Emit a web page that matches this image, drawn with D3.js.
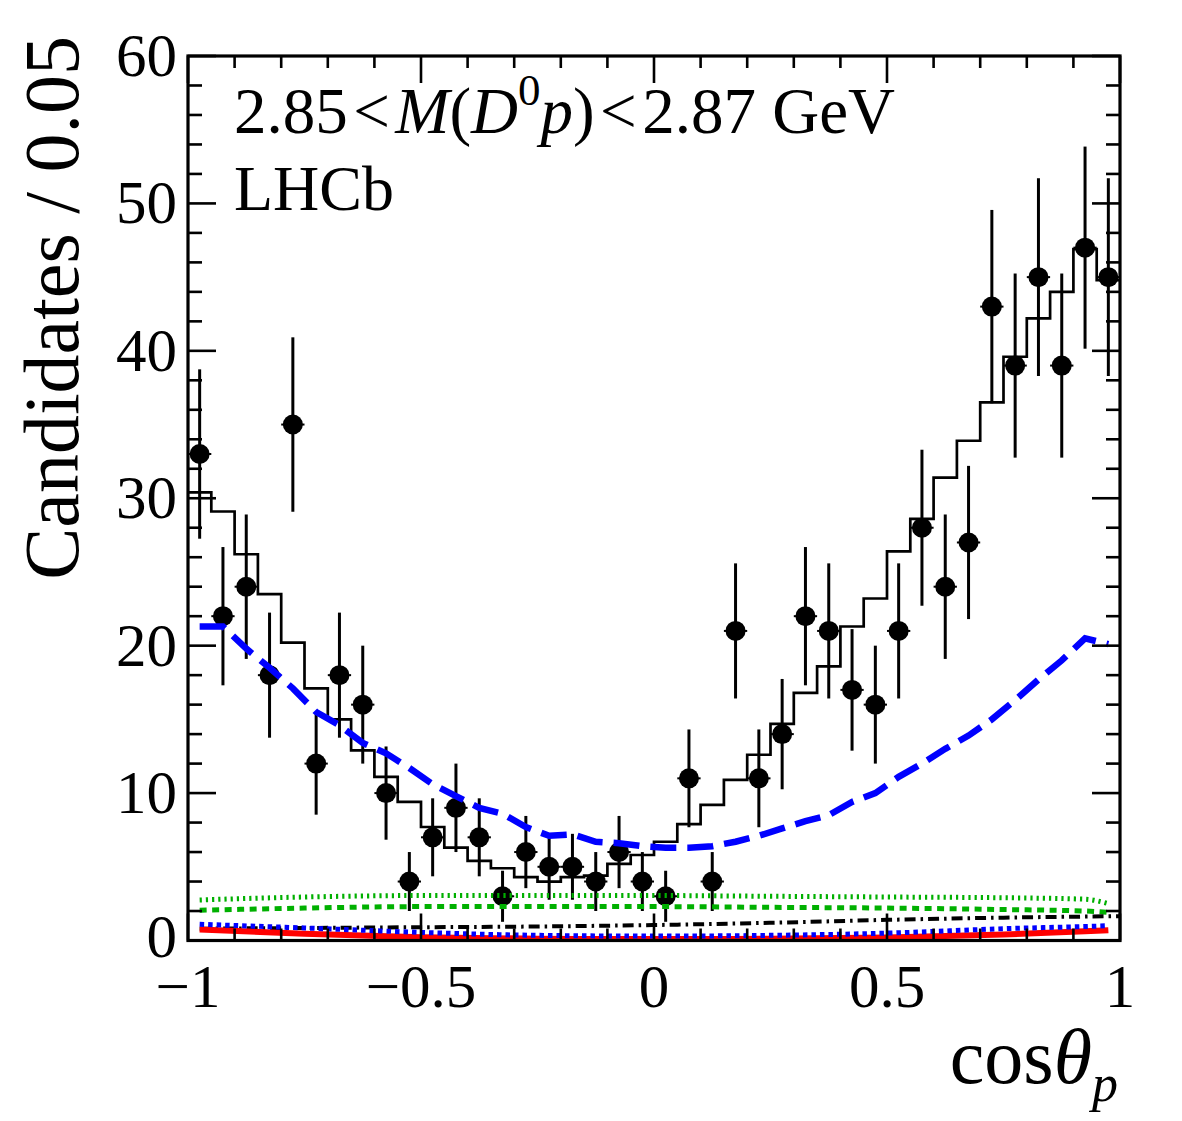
<!DOCTYPE html>
<html><head><meta charset="utf-8">
<script src="https://cdn.jsdelivr.net/npm/d3@7"></script>
<style>
body{margin:0;background:#fff}
text{font-family:"Liberation Serif","Times New Roman",serif;fill:#000}
</style>
</head><body>
<svg id="c" width="1182" height="1121"></svg>
<script>
// ---- data ----
const binLow = [-1,-0.95,-0.9,-0.85,-0.8,-0.75,-0.7,-0.65,-0.6,-0.55,-0.5,-0.45,-0.4,-0.35,-0.3,-0.25,-0.2,-0.15,-0.1,-0.05,
                0,0.05,0.1,0.15,0.2,0.25,0.3,0.35,0.4,0.45,0.5,0.55,0.6,0.65,0.7,0.75,0.8,0.85,0.9,0.95];
const binCenter = [-0.975,-0.925,-0.875,-0.825,-0.775,-0.725,-0.675,-0.625,-0.575,-0.525,-0.475,-0.425,-0.375,-0.325,-0.275,-0.225,-0.175,-0.125,-0.075,-0.025,
                   0.025,0.075,0.125,0.175,0.225,0.275,0.325,0.375,0.425,0.475,0.525,0.575,0.625,0.675,0.725,0.775,0.825,0.875,0.925,0.975];
const binWidth = 0.05;
const dataCounts = [33,22,24,18,35,12,18,16,10,4,7,9,7,3,6,5,5,4,6,4,
                    3,11,4,21,11,14,22,21,17,16,21,28,24,27,43,39,45,39,47,45];
const fitTotal = [30.4,29.1,26.2,23.5,20.2,17.1,15.0,12.9,11.1,9.4,7.7,6.3,5.4,4.9,4.3,4.0,4.3,4.4,5.2,5.8,
                  6.7,7.9,9.2,10.9,12.6,14.7,16.8,18.6,21.3,23.2,26.4,28.6,31.4,33.9,36.5,39.6,42.2,44.0,46.9,44.8];
const blueDashed = [21.3,21.3,19.8,18.5,17.1,15.5,14.6,13.4,12.7,11.7,10.6,9.8,9.0,8.6,7.7,7.1,7.2,6.7,6.6,6.4,
                    6.3,6.3,6.4,6.7,7.1,7.6,8.1,8.5,9.4,10.0,11.1,12.0,13.0,13.9,15.0,16.3,17.7,19.0,20.5,20.1];
const compX = [-0.975,-0.75,-0.5,-0.25,0,0.25,0.5,0.75,0.925,0.975];
const greenDotted = [2.75,2.95,3.05,3.05,3.05,3.0,2.95,2.9,2.8,2.5];
const greenDashed = [2.05,2.2,2.3,2.3,2.3,2.25,2.2,2.1,2.0,1.9];
const blueDotted  = [1.1,0.85,0.55,0.35,0.3,0.35,0.5,0.8,0.95,1.0];
const redSolid    = [0.75,0.45,0.22,0.12,0.1,0.12,0.2,0.4,0.62,0.7];
const dashDotX = [-0.975,-0.75,-0.5,-0.25,0,0.25,0.5,0.75,1.0];
const dashDot  = [0.8,0.85,0.9,0.95,1.05,1.2,1.4,1.55,1.65];
const xTicks = [-1,-0.5,0,0.5,1];
const xTickLabels = ["\u22121","\u22120.5","0","0.5","1"];
const yTicks = [0,10,20,30,40,50,60];
const yTickLabels = ["0","10","20","30","40","50","60"];

// ---- layout ----
const svg = d3.select("#c");
const L=188, R=1120, T=56, B=940.5;
const x = d3.scaleLinear().domain([-1,1]).range([L,R]);
const y = d3.scaleLinear().domain([0,60]).range([B,T]);

const plot = svg.append("g");

// data points
const pts = plot.append("g");
dataCounts.forEach((n,i)=>{
  const cx = x(binCenter[i]), e = Math.sqrt(n);
  pts.append("line").attr("x1",cx).attr("x2",cx).attr("y1",y(n+e)).attr("y2",y(Math.max(0,n-e)))
     .attr("stroke","#000").attr("stroke-width",3);
  pts.append("line").attr("x1",x(binCenter[i]-binWidth/2)).attr("x2",x(binCenter[i]+binWidth/2))
     .attr("y1",y(n)).attr("y2",y(n)).attr("stroke","#000").attr("stroke-width",2);
  pts.append("circle").attr("cx",cx).attr("cy",y(n)).attr("r",10).attr("fill","#000");
});

// fit total histogram (step)
const stepPts = [];
fitTotal.forEach((v,i)=>{ stepPts.push([binLow[i],v]); stepPts.push([binLow[i]+binWidth,v]); });
plot.append("path").attr("d", d3.line().x(d=>x(d[0])).y(d=>y(d[1]))(stepPts))
  .attr("fill","none").attr("stroke","#000").attr("stroke-width",2.7);

// components
const lineXY = (xs,vs,curve)=>d3.line().x((d,i)=>x(xs[i])).y(d=>y(d)).curve(curve||d3.curveLinear)(vs);
plot.append("path").attr("d",lineXY(compX,greenDotted,d3.curveMonotoneX))
  .attr("fill","none").attr("stroke","#00b000").attr("stroke-width",5).attr("stroke-dasharray","2.2,4");
plot.append("path").attr("d",lineXY(compX,greenDashed,d3.curveMonotoneX))
  .attr("fill","none").attr("stroke","#00b000").attr("stroke-width",5).attr("stroke-dasharray","7,5.5");
plot.append("path").attr("d",lineXY(dashDotX,dashDot,d3.curveMonotoneX))
  .attr("fill","none").attr("stroke","#000").attr("stroke-width",4).attr("stroke-dasharray","11,5,2.5,5");
plot.append("path").attr("d",lineXY(compX,redSolid,d3.curveMonotoneX))
  .attr("fill","none").attr("stroke","#ff0000").attr("stroke-width",6);
plot.append("path").attr("d",lineXY(compX,blueDotted,d3.curveMonotoneX))
  .attr("fill","none").attr("stroke","#0000ff").attr("stroke-width",5).attr("stroke-dasharray","4.5,4");
plot.append("path").attr("d",lineXY(binCenter,blueDashed))
  .attr("fill","none").attr("stroke","#0000ff").attr("stroke-width",6.5).attr("stroke-dasharray","26,11");

// frame & ticks
const fr = svg.append("g").attr("stroke","#000");
fr.append("rect").attr("x",L).attr("y",T).attr("width",R-L).attr("height",B-T)
  .attr("fill","none").attr("stroke-width",3.2);
d3.range(0,61,2).forEach(v=>{
  const major = v%10===0, len = major?28:14;
  fr.append("line").attr("x1",L).attr("x2",L+len).attr("y1",y(v)).attr("y2",y(v)).attr("stroke-width",2.6);
  fr.append("line").attr("x1",R).attr("x2",R-len).attr("y1",y(v)).attr("y2",y(v)).attr("stroke-width",2.6);
});
d3.range(-10,11,1).forEach(k=>{
  const v=k/10, major = k%5===0, len = major?27:12;
  fr.append("line").attr("x1",x(v)).attr("x2",x(v)).attr("y1",B).attr("y2",B-len).attr("stroke-width",2.6);
  fr.append("line").attr("x1",x(v)).attr("x2",x(v)).attr("y1",T).attr("y2",T+len).attr("stroke-width",2.6);
});

// tick labels
yTicks.forEach((v,i)=>{
  svg.append("text").attr("x",177).attr("y",y(v)+(v===0?16:20)).attr("text-anchor","end")
    .attr("font-size",61).text(yTickLabels[i]);
});
xTicks.forEach((v,i)=>{
  svg.append("text").attr("x",x(v)).attr("y",1007).attr("text-anchor","middle")
    .attr("font-size",61).text(xTickLabels[i]);
});

// axis titles
svg.append("text").attr("transform","translate(78,36) rotate(-90)")
  .attr("text-anchor","end").attr("font-size",78).text("Candidates / 0.05");
const xt = svg.append("text").attr("x",1118).attr("y",1083).attr("text-anchor","end").attr("font-size",78);
xt.append("tspan").text("cos");
xt.append("tspan").attr("font-style","italic").text("\u03B8");
xt.append("tspan").attr("font-style","italic").attr("font-size",52).attr("dy",18).text("p");

// labels
const lab = svg.append("text").attr("x",234).attr("y",133).attr("font-size",65);
lab.append("tspan").text("2.85\u200A<\u200A");
lab.append("tspan").attr("font-style","italic").text("M");
lab.append("tspan").text("(");
lab.append("tspan").attr("font-style","italic").text("D");
lab.append("tspan").attr("font-size",45).attr("dy",-28).text("0");
lab.append("tspan").attr("font-style","italic").attr("dy",28).text("p");
lab.append("tspan").text(")\u200A<\u200A2.87 GeV");
svg.append("text").attr("x",234).attr("y",210).attr("font-size",64).text("LHCb");
</script>
</body></html>
